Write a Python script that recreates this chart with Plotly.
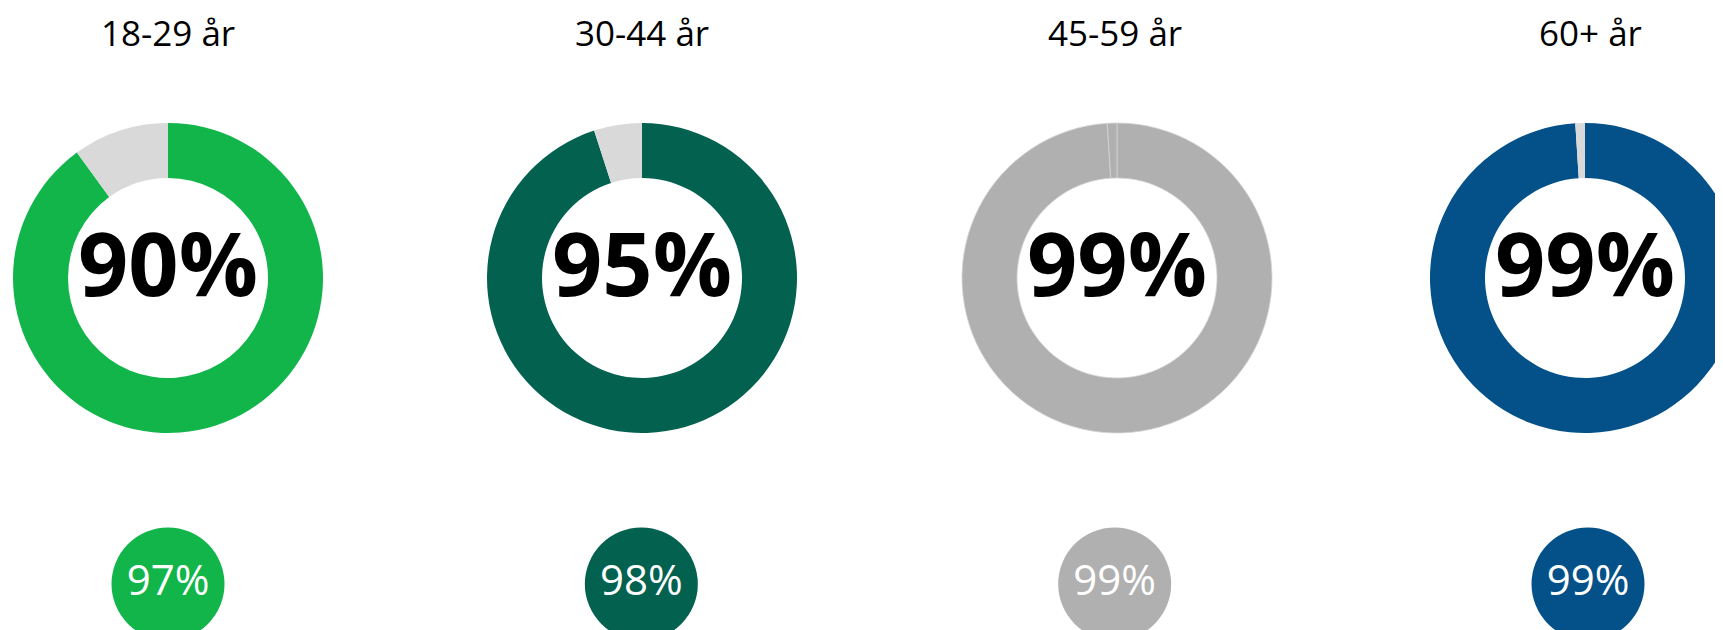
import plotly.graph_objects as go

# ---- data ----
groups = ["18-29 år", "30-44 år", "45-59 år", "60+ år"]
main_values = [90, 95, 99, 99]          # donut share (%)
rest_values = [10, 5, 1, 1]             # remainder (%)
bottom_values = [97, 98, 99, 99]        # small bubble values (%)

# ---- styles ----
main_colors = ["#12B54A", "#036150", "#B0B0B0", "#035188"]
rest_colors = ["#D9D9D9", "#D9D9D9", "#B0B0B0", "#D9D9D9"]
FONT = "Open Sans"
W, H = 1760, 640   # page body has an 8px margin; right edge is cut by the window
OFF = 8            # body margin offset

def fx(px):  # screen x -> paper fraction
    return (px - OFF) / W

def fy(py):  # screen y (from top) -> paper fraction
    return (H - (py - OFF)) / H

# donut layout in screen pixels
donut_cx = [168, 642, 1117, 1585]
R = 155
donut_top, donut_bot = 123, 433

fig = go.Figure()

for i, g in enumerate(groups):
    line = dict(width=0)
    if rest_colors[i] == main_colors[i]:
        line = dict(width=0.8, color="#D4D4D4")
    fig.add_trace(go.Pie(
        values=[main_values[i], rest_values[i]],
        labels=["Andel", "Övriga"],
        marker=dict(colors=[main_colors[i], rest_colors[i]], line=line),
        hole=100 / 155,
        sort=False,
        direction="clockwise",
        rotation=0,
        textinfo="none",
        hoverinfo="label+value",
        showlegend=False,
        domain=dict(x=[fx(donut_cx[i] - R), fx(donut_cx[i] + R)],
                    y=[fy(donut_bot), fy(donut_top)]),
    ))
    fig.add_annotation(
        x=fx(donut_cx[i]), y=fy(262), xref="paper", yref="paper",
        text=f"<b>{main_values[i]}%</b>", showarrow=False,
        font=dict(family=FONT, size=88, color="#000000"),
        xanchor="center", yanchor="middle",
    )

# titles
title_cx = [168, 642, 1115, 1590]
for i, g in enumerate(groups):
    fig.add_annotation(
        x=fx(title_cx[i]), y=1.0, xref="paper", yref="paper",
        text=g, showarrow=False,
        font=dict(family=FONT, size=35, color="#000000"),
        xanchor="center", yanchor="top", borderpad=0,
    )

# bottom bubbles
fig.add_trace(go.Scatter(
    x=groups, y=[0] * len(groups),
    mode="markers+text",
    marker=dict(size=113, color=main_colors, symbol="circle", line=dict(width=0)),
    text=[f"{v}%" for v in bottom_values],
    textposition="middle center",
    textfont=dict(family=FONT, size=42, color="#FFFFFF"),
    hoverinfo="text",
    showlegend=False,
    cliponaxis=False,
))

# x axis: category index 0 -> screen 168, index 3 -> screen 1588
px_per_unit = (1588 - 168) / 3
r0 = -(168 - OFF) / px_per_unit
r1 = r0 + W / px_per_unit
# y axis: domain covers bottom 140px of the figure; bubble centre at screen y 584
dom_px = 140
center_from_bottom = H - (584 - OFF)
fig.update_layout(
    width=W, height=H,
    margin=dict(l=0, r=0, t=0, b=0),
    paper_bgcolor="#FFFFFF", plot_bgcolor="rgba(0,0,0,0)",
    xaxis=dict(type="category", range=[r0, r1], visible=False, fixedrange=True),
    yaxis=dict(domain=[0, dom_px / H],
               range=[-center_from_bottom / dom_px, (dom_px - center_from_bottom) / dom_px],
               visible=False, fixedrange=True),
    font=dict(family=FONT),
)

fig.write_html("out.html")
